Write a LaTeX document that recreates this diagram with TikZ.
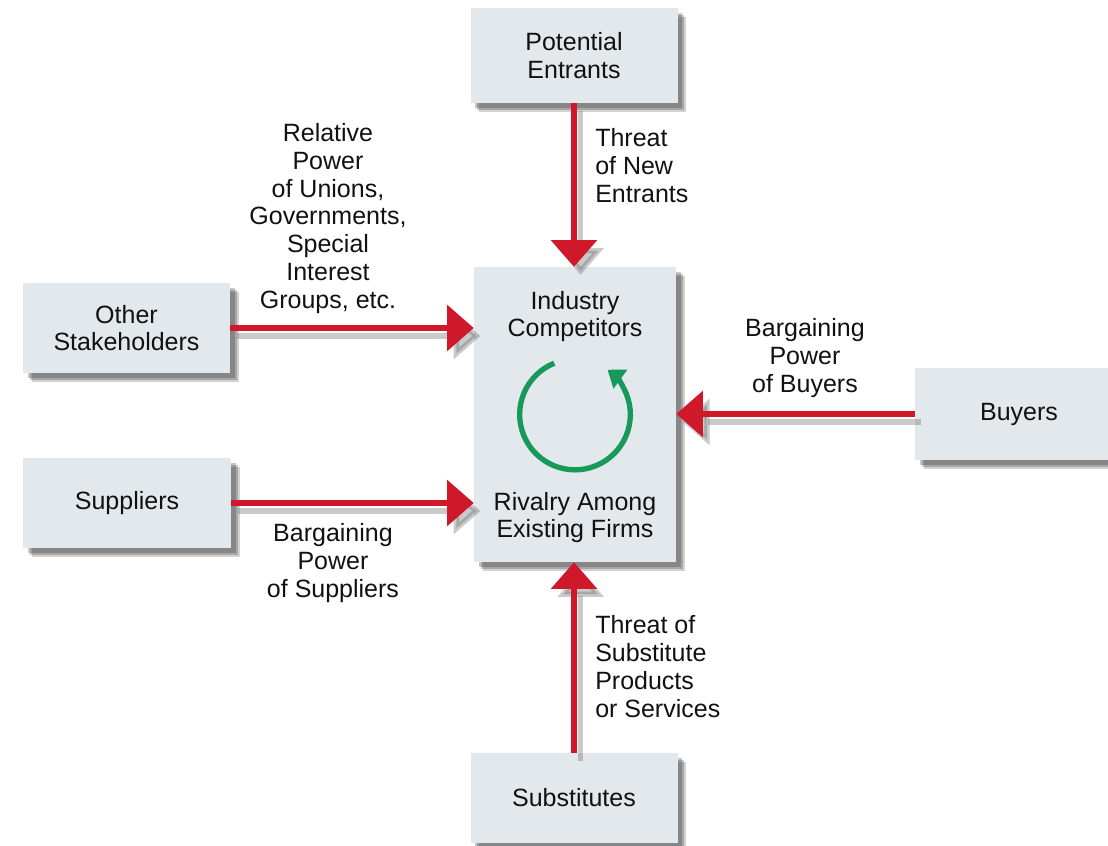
\documentclass[tikz,border=0pt]{standalone}
\usepackage{fontspec}
\setmainfont{Liberation Sans}
\usetikzlibrary{arrows.meta,shadows}
\definecolor{boxfill}{HTML}{E2E8EB}
\definecolor{arrred}{HTML}{D0182B}
\definecolor{rivgreen}{HTML}{17995C}
\definecolor{txt}{HTML}{111111}
\begin{document}
\begin{tikzpicture}[x=0.75pt,y=-0.75pt,
  font=\fontsize{18.75pt}{20.8pt}\selectfont, text=txt,
  box/.style={fill=boxfill, inner sep=0pt, align=center,
     general shadow={fill=black!80, opacity=.28, shadow xshift=3.5pt, shadow yshift=-4pt},
     general shadow={fill=black!80, opacity=.28, shadow xshift=5pt, shadow yshift=-5.5pt},
     general shadow={fill=black!80, opacity=.22, shadow xshift=6.5pt, shadow yshift=-7pt}},
  lbl/.style={inner sep=0pt, align=center},
  lbll/.style={inner sep=0pt, align=left, anchor=west},
  force/.style={draw=arrred, line width=4pt, -{Triangle[width=34pt,length=20pt]}},
  forceshadow/.style={draw=black!60, opacity=.35, line width=4pt, -{Triangle[width=34pt,length=20pt]}, transform canvas={shift={(5pt,-6pt)}}},
  rivalry/.style={draw=rivgreen, line width=4pt, -{Triangle[width=17pt,length=12pt]}}
]
\useasboundingbox (0,0) rectangle (1108,846);

% boxes
\node[box, minimum width=155.25pt, minimum height=71.25pt] (PE) at (574,55.5) {Potential\\Entrants};
\node[box, minimum width=155.25pt, minimum height=67.5pt] (OS) at (126.5,328) {Other\\Stakeholders};
\node[box, minimum width=156pt, minimum height=67.5pt] (SU) at (127,503) {Suppliers};
\node[box, minimum width=151.5pt, minimum height=221.25pt] (CE) at (575,414.5) {};
\node[box, minimum width=156pt, minimum height=69pt] (BU) at (1019,414) {Buyers};
\node[box, minimum width=155.25pt, minimum height=67.5pt] (SB) at (574,798) {Substitutes};

% centre box content
\node[lbl] (CEt) at (575,316.5) {Industry\\Competitors};
\node[lbl] (CEb) at (575,517.5) {Rivalry Among\\Existing Firms};
\draw[rivalry] (CE.center) ++(112:41.5pt) arc[start angle=112, end angle=414, radius=41.5pt];

% arrow shadows
\draw[forceshadow] (PE.south) -- (PE.south |- CE.north);
\draw[forceshadow] (OS.east) -- (OS.east -| CE.west);
\draw[forceshadow] (SU.east) -- (SU.east -| CE.west);
\draw[forceshadow] (BU.west) -- (BU.west -| CE.east);
\draw[forceshadow] (SB.north) -- (SB.north |- CE.south);

% arrows
\draw[force] (PE.south) -- (PE.south |- CE.north);
\draw[force] (OS.east) -- (OS.east -| CE.west);
\draw[force] (SU.east) -- (SU.east -| CE.west);
\draw[force] (BU.west) -- (BU.west -| CE.east);
\draw[force] (SB.north) -- (SB.north |- CE.south);

% labels
\node[lbl] (Lrel) at (328,218.5) {Relative\\Power\\of Unions,\\Governments,\\Special\\Interest\\Groups, etc.};
\node[lbll] (Lnew) at (595,165.5) {Threat\\of New\\Entrants};
\node[lbl] (Lbuy) at (805,358) {Bargaining\\Power\\of Buyers};
\node[lbl] (Lsup) at (333,563) {Bargaining\\Power\\of Suppliers};
\node[lbll] (Lsub) at (595,666.5) {Threat of\\Substitute\\Products\\or Services};
\end{tikzpicture}
\end{document}
